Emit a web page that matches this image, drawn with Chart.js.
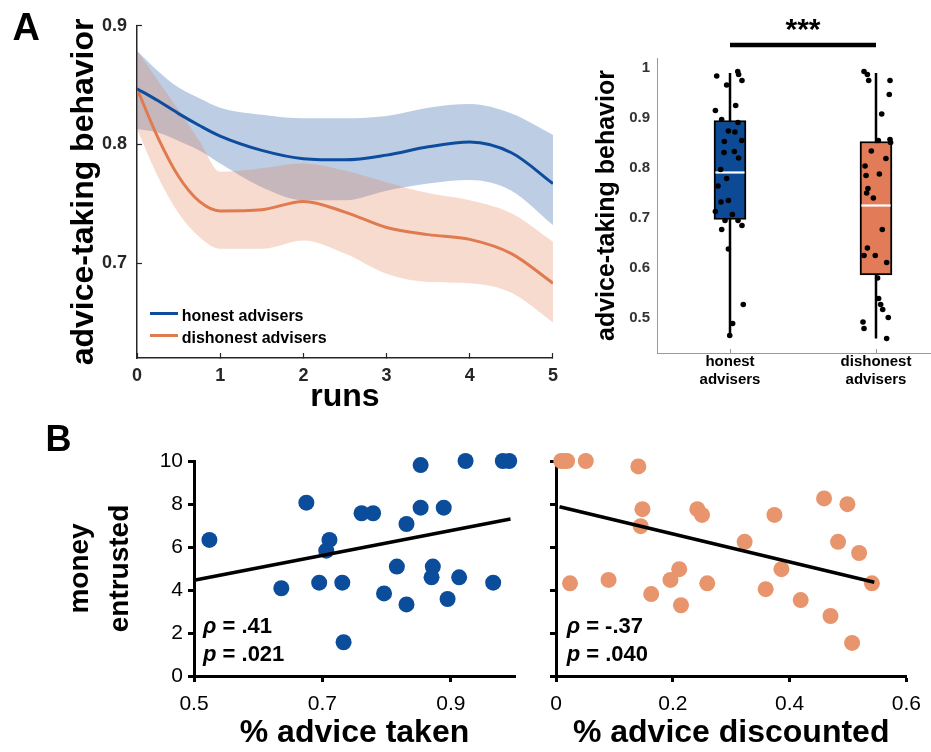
<!DOCTYPE html>
<html><head><meta charset="utf-8">
<script src="https://cdn.jsdelivr.net/npm/chart.js@4.4.1/dist/chart.umd.min.js"></script>
<style>
html,body{margin:0;padding:0;background:#fff;overflow:hidden;}
#wrap{position:relative;width:931px;height:752px;overflow:hidden;background:#fff;font-family:"Liberation Sans",Arial,Helvetica,sans-serif;}
canvas{position:absolute;}
.t{position:absolute;line-height:1;white-space:nowrap;color:#000;font-weight:bold;}
.ln{position:absolute;height:3px;}
</style></head><body>
<div id="wrap">
<canvas id="cA1" width="570" height="420" style="left:0px;top:0px"></canvas>
<canvas id="cA2" width="400" height="420" style="left:560px;top:0px"></canvas>
<canvas id="cB1" width="530" height="332" style="left:0px;top:420px"></canvas>
<canvas id="cB2" width="411" height="332" style="left:520px;top:420px"></canvas>
<div class="t" style="left:12.5px;top:8px;font-size:38px">A</div>
<div class="t" style="left:45.5px;top:421px;font-size:36px">B</div>
<div class="t" style="left:803px;top:14px;font-size:30px;transform:translateX(-50%)">***</div>
<div class="t" style="left:203px;top:614.7px;font-size:22px"><i>ρ</i> = .41</div>
<div class="t" style="left:203px;top:643.1px;font-size:22px"><i>p</i> = .021</div>
<div class="t" style="left:566.7px;top:614.7px;font-size:22px"><i>ρ</i> = -.37</div>
<div class="t" style="left:566.7px;top:643.1px;font-size:22px"><i>p</i> = .040</div>
<div id="legend"></div>
</div>
<script>
// ---------------- DATA ----------------
// Panel A (left): advice-taking over runs
const runs = [0, 0.25, 0.5, 0.75, 1, 1.5, 2, 2.5, 3, 3.5, 4, 4.5, 5];
const honestMean     = [0.847, 0.837, 0.826, 0.816, 0.807, 0.795, 0.788, 0.787, 0.791, 0.798, 0.802, 0.793, 0.767];
const honestUpper    = [0.879, 0.862, 0.848, 0.839, 0.831, 0.825, 0.822, 0.822, 0.824, 0.831, 0.834, 0.826, 0.808];
const honestLower    = [0.813, 0.810, 0.803, 0.795, 0.784, 0.764, 0.753, 0.753, 0.761, 0.767, 0.770, 0.761, 0.732];
const dishonestMean  = [0.847, 0.806, 0.773, 0.752, 0.744, 0.745, 0.752, 0.743, 0.730, 0.724, 0.720, 0.708, 0.683];
const dishonestUpper = [0.879, 0.854, 0.829, 0.803, 0.777, 0.780, 0.784, 0.778, 0.768, 0.759, 0.753, 0.742, 0.718];
const dishonestLower = [0.813, 0.773, 0.742, 0.722, 0.712, 0.712, 0.719, 0.708, 0.691, 0.684, 0.683, 0.675, 0.650];
const seriesNames = ['honest advisers', 'dishonest advisers'];
const runTicks = [0, 1, 2, 3, 4, 5];
const behaviorTicks = [0.7, 0.8, 0.9];

// Panel A (right): box plot
const boxLabels = [['honest', 'advisers'], ['dishonest', 'advisers']];
const boxQ1 = [0.697, 0.586];
const boxQ3 = [0.895, 0.853];
const boxMedian = [0.791, 0.725];
const boxWhiskerLow = [0.465, 0.459];
const boxWhiskerHigh = [0.990, 0.990];
const boxTicks = [0.5, 0.6, 0.7, 0.8, 0.9, 1];
const honestScores = [0.984, 0.993, 0.987, 0.975, 0.966, 0.925, 0.915, 0.897, 0.891, 0.874, 0.872, 0.853, 0.855, 0.831, 0.833, 0.820, 0.797, 0.779, 0.764, 0.735, 0.732, 0.713, 0.707, 0.695, 0.695, 0.677, 0.685, 0.638, 0.527, 0.489, 0.465];
const honestJitter = [-0.091, 0.053, 0.059, 0.082, -0.023, 0.039, -0.100, -0.057, 0.055, -0.011, 0.034, -0.039, 0.080, -0.041, 0.030, 0.059, -0.064, -0.023, -0.082, -0.011, -0.062, -0.100, 0.016, -0.034, 0.055, -0.057, 0.082, -0.011, 0.091, 0.018, -0.002];
const dishonestScores = [0.993, 0.987, 0.975, 0.975, 0.947, 0.908, 0.855, 0.857, 0.851, 0.834, 0.804, 0.819, 0.785, 0.788, 0.759, 0.750, 0.740, 0.677, 0.640, 0.625, 0.625, 0.611, 0.580, 0.539, 0.527, 0.517, 0.501, 0.492, 0.479, 0.459];
const dishonestJitter = [-0.082, -0.059, -0.050, 0.096, 0.091, 0.039, 0.016, 0.096, 0.100, -0.032, -0.075, 0.068, -0.068, 0.023, -0.055, -0.064, -0.018, 0.043, -0.059, -0.082, -0.005, 0.073, 0.011, 0.018, 0.032, 0.046, 0.084, -0.089, -0.082, 0.073];
const sigLevel = 1.046;

// Panel B (left): money entrusted vs % advice taken
const adviceTaken = [0.524, 0.675, 0.636, 0.695, 0.711, 0.706, 0.731, 0.733, 0.761, 0.779, 0.796, 0.816, 0.831, 0.831, 0.853, 0.853, 0.872, 0.870, 0.889, 0.895, 0.913, 0.923, 0.966, 0.981, 0.991];
const moneyVsTaken = [6.33, 8.06, 4.08, 4.34, 6.33, 5.83, 4.34, 1.57, 7.57, 7.57, 3.84, 5.09, 7.07, 3.33, 9.81, 7.83, 5.09, 4.59, 7.83, 3.58, 4.59, 10, 4.34, 10, 10];
const fitTakenX = [0.5, 0.993];
const fitTakenY = [4.45, 7.30];
const takenTicks = [0.5, 0.7, 0.9];
const moneyTicks = [0, 2, 4, 6, 8, 10];

// Panel B (right): money entrusted vs % advice discounted
const adviceDiscounted = [0.009, 0.014, 0.019, 0.051, 0.141, 0.148, 0.145, 0.024, 0.090, 0.163, 0.196, 0.211, 0.214, 0.242, 0.250, 0.259, 0.323, 0.359, 0.374, 0.386, 0.419, 0.459, 0.470, 0.483, 0.499, 0.507, 0.519, 0.541];
const moneyVsDiscounted = [10, 10, 10, 10, 9.75, 7.76, 6.97, 4.31, 4.47, 3.81, 4.47, 4.97, 3.29, 7.76, 7.49, 4.31, 6.24, 4.04, 7.49, 4.97, 3.53, 8.26, 2.79, 6.24, 7.99, 1.54, 5.72, 4.31];
const fitDiscX = [0.006, 0.545];
const fitDiscY = [7.87, 4.36];
const discTicks = [0, 0.2, 0.4, 0.6];

// ---------------- STYLE ----------------
const BLUE = '#0e4d9e', ORANGE = '#e07a4f';
const BLUE_BAND = 'rgba(14,77,158,0.28)', ORANGE_BAND = 'rgba(224,122,79,0.27)';
const BOX_BLUE = '#0c4a96', BOX_ORANGE = '#e27c58';
const DOT_BLUE = '#0b4c9b', DOT_ORANGE = '#e8946c';
const seriesColors = [BLUE, ORANGE];
const AX = '#262626';

Chart.defaults.font.family = '"Liberation Sans", Arial, Helvetica, sans-serif';
Chart.defaults.animation = false;
Chart.defaults.plugins.legend.display = false;
Chart.defaults.plugins.tooltip.enabled = false;

const fixW = w => s => { s.width = w; };
const fixH = h => s => { s.height = h; };
const setTicks = arr => s => { s.ticks = arr.map(v => ({ value: v })); };
const xy = (xs, ys) => xs.map((x, i) => ({ x: x, y: ys[i] }));

// legend (HTML)
(function () {
  const lg = document.getElementById('legend');
  const textTops = [308.2, 329.8], lineTops = [311.8, 334.2];
  seriesNames.forEach((n, i) => {
    const l = document.createElement('div');
    l.className = 'ln';
    l.style.cssText = 'left:150px;width:28px;top:' + lineTops[i] + 'px;background:' + seriesColors[i];
    lg.appendChild(l);
    const t = document.createElement('div');
    t.className = 't';
    t.style.cssText = 'left:181.7px;font-size:16px;top:' + textTops[i] + 'px';
    t.textContent = n;
    lg.appendChild(t);
  });
})();

// ---------------- PANEL A left ----------------
const bandOpts = { borderWidth: 0, pointRadius: 0, cubicInterpolationMode: 'monotone' };
new Chart(document.getElementById('cA1'), {
  type: 'line',
  data: { datasets: [
    Object.assign({ data: xy(runs, honestUpper), fill: '+1', backgroundColor: BLUE_BAND, order: 2 }, bandOpts),
    Object.assign({ data: xy(runs, honestLower), fill: false, order: 2 }, bandOpts),
    Object.assign({ data: xy(runs, dishonestUpper), fill: '+1', backgroundColor: ORANGE_BAND, order: 1 }, bandOpts),
    Object.assign({ data: xy(runs, dishonestLower), fill: false, order: 1 }, bandOpts),
    { label: seriesNames[0], data: xy(runs, honestMean), borderColor: BLUE, borderWidth: 3, pointRadius: 0, cubicInterpolationMode: 'monotone', fill: false, order: 0 },
    { label: seriesNames[1], data: xy(runs, dishonestMean), borderColor: ORANGE, borderWidth: 3, pointRadius: 0, cubicInterpolationMode: 'monotone', fill: false, order: 0 }
  ] },
  options: {
    responsive: false,
    layout: { padding: { top: 25, right: 13, left: 0, bottom: 0 } },
    scales: {
      x: {
        type: 'linear', min: 0, max: 5, afterBuildTicks: setTicks(runTicks), afterFit: fixH(62),
        grid: { drawOnChartArea: false, drawTicks: true, tickLength: -5, tickColor: AX, tickWidth: 1.2 },
        border: { color: AX, width: 1.5 },
        ticks: { padding: 12, color: AX, font: { size: 18, weight: 'bold' }, maxRotation: 0, autoSkip: false, callback: v => String(v) },
        title: { display: true, text: 'runs', color: '#000', font: { size: 32, weight: 'bold' }, padding: { top: 0, bottom: 4 } }
      },
      y: {
        min: 0.62, max: 0.9, afterBuildTicks: setTicks(behaviorTicks), afterFit: fixW(137),
        grid: { drawOnChartArea: false, drawTicks: true, tickLength: -5, tickColor: AX, tickWidth: 1.2 },
        border: { color: AX, width: 1.5 },
        ticks: { padding: 15, color: AX, font: { size: 18, weight: 'bold' }, autoSkip: false, callback: v => v.toFixed(1) },
        title: { display: true, text: 'advice-taking behavior', color: '#000', font: { size: 32, weight: 'bold' }, padding: { top: 65, bottom: 0 } }
      }
    }
  }
});

// ---------------- PANEL A right (box plot) ----------------
const lineDs = (data, color, width, order, extra) => Object.assign({ type: 'line', data: data, borderColor: color, borderWidth: width, pointRadius: 0, fill: false, order: order }, extra || {});
const boxDatasets = [
  { type: 'scatter', data: honestScores.map((v, i) => ({ x: 1 + honestJitter[i], y: v })), pointRadius: 2.8, backgroundColor: '#000', borderWidth: 0, order: 0 },
  { type: 'scatter', data: dishonestScores.map((v, i) => ({ x: 2 + dishonestJitter[i], y: v })), pointRadius: 2.8, backgroundColor: '#000', borderWidth: 0, order: 0 },
  lineDs([{ x: 1, y: sigLevel }, { x: 2, y: sigLevel }], '#000', 4.5, 0, { clip: false })
];
boxLabels.forEach((lab, i) => {
  boxDatasets.push(lineDs([{ x: i + 1 - 0.1, y: boxMedian[i] }, { x: i + 1 + 0.1, y: boxMedian[i] }], '#fff', 2.2, 1));
  boxDatasets.push(lineDs([{ x: i + 1, y: boxWhiskerLow[i] }, { x: i + 1, y: boxWhiskerHigh[i] }], '#000', 2.5, 3));
});
boxDatasets.push({
  type: 'bar', data: boxLabels.map((l, i) => ({ x: i + 1, y: [boxQ1[i], boxQ3[i]] })),
  backgroundColor: [BOX_BLUE, BOX_ORANGE], borderColor: '#000', borderWidth: 2, borderSkipped: false,
  barThickness: 32, order: 2
});
new Chart(document.getElementById('cA2'), {
  type: 'scatter',
  data: { datasets: boxDatasets },
  options: {
    responsive: false,
    layout: { padding: { top: 58, right: 11, left: 0, bottom: 0 } },
    scales: {
      x: {
        type: 'linear', min: 0.5, max: 2.5, offset: false, afterBuildTicks: setTicks([1, 2]), afterFit: fixH(67),
        grid: { offset: false, drawOnChartArea: false, drawTicks: true, tickLength: -4, tickColor: '#999' },
        border: { color: '#999', width: 1 },
        ticks: { padding: 4, color: '#000', font: { size: 15, weight: 'bold', lineHeight: 1.2 }, maxRotation: 0, autoSkip: false, callback: v => boxLabels[Math.round(v) - 1] }
      },
      y: {
        type: 'linear', min: 0.43, max: 1.02, beginAtZero: false, afterBuildTicks: setTicks(boxTicks), afterFit: fixW(97),
        grid: { drawOnChartArea: false, drawTicks: false },
        border: { color: '#999', width: 1 },
        ticks: { padding: 7, color: '#333', font: { size: 15, weight: 'bold' }, autoSkip: false, callback: v => String(+v.toFixed(1)) },
        title: { display: true, text: 'advice-taking behavior', color: '#000', font: { size: 25, weight: 'bold' }, padding: { top: 32, bottom: 0 } }
      }
    }
  }
});

// ---------------- PANEL B ----------------
function scatterPanel(id, xs, ys, fx, fy, color, xMin, xMax, xTicks, yWidth, padRight, xTitle, yTitle, showYLabels) {
  const yScale = {
    min: 0, max: 10, afterBuildTicks: setTicks(moneyTicks), afterFit: fixW(yWidth),
    grid: { drawOnChartArea: false, drawTicks: true, tickLength: 6, tickWidth: 3, tickColor: '#000' },
    border: { color: '#000', width: 3 },
    ticks: { padding: 5, color: '#000', font: { size: 21 }, autoSkip: false, callback: v => showYLabels ? String(v) : '' }
  };
  if (yTitle) yScale.title = { display: true, text: yTitle, color: '#000', font: { size: 28, weight: 'bold', lineHeight: 1.43 }, padding: { top: 60, bottom: 0 } };
  new Chart(document.getElementById(id), {
    type: 'scatter',
    data: { datasets: [
      { data: xy(fx, fy), type: 'line', borderColor: '#000', borderWidth: 3.5, pointRadius: 0, fill: false, clip: false, order: 0 },
      { data: xy(xs, ys), pointRadius: 8, backgroundColor: color, borderWidth: 0, clip: false, order: 1 }
    ] },
    options: {
      responsive: false,
      layout: { padding: { top: 41, right: padRight, left: 0, bottom: 0 } },
      scales: {
        x: {
          type: 'linear', min: xMin, max: xMax, afterBuildTicks: setTicks(xTicks), afterFit: fixH(76),
          grid: { drawOnChartArea: false, drawTicks: true, tickLength: 6, tickWidth: 3, tickColor: '#000' },
          border: { color: '#000', width: 3 },
          ticks: { padding: 10, color: '#000', font: { size: 21 }, maxRotation: 0, autoSkip: false, callback: v => String(v) },
          title: { display: true, text: xTitle, color: '#000', font: { size: 32, weight: 'bold' }, padding: { top: 0, bottom: 0 } }
        },
        y: yScale
      }
    }
  });
}
scatterPanel('cB1', adviceTaken, moneyVsTaken, fitTakenX, fitTakenY, DOT_BLUE, 0.5, 1.0, takenTicks, 194, 15, '% advice taken', ['money', 'entrusted'], true);
scatterPanel('cB2', adviceDiscounted, moneyVsDiscounted, fitDiscX, fitDiscY, DOT_ORANGE, 0, 0.6, discTicks, 36, 20, '% advice discounted', null, false);
</script>
</body></html>
